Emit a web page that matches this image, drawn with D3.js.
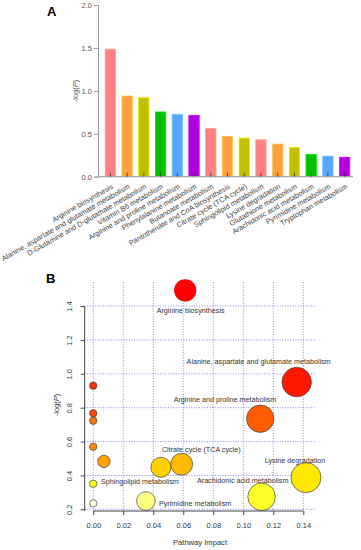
<!DOCTYPE html>
<html>
<head>
<meta charset="utf-8">
<script src="https://cdn.jsdelivr.net/npm/d3@7"></script>
<style>
  body { margin: 0; background: #fff; }
  svg { display: block; font-family: "Liberation Sans", Arial, sans-serif; }
</style>
</head>
<body>
<svg id="chart" width="361" height="550"></svg>
<script>
// panel A: enrichment bars
const barNames = [
  "Arginine biosynthesis",
  "Alanine, aspartate and glutamate metabolism",
  "D-Glutamine and D-glutamate metabolism",
  "Vitamin B6 metabolism",
  "Arginine and proline metabolism",
  "Phenylalanine metabolism",
  "Butanoate metabolism",
  "Pantothenate and CoA biosynthesis",
  "Citrate cycle (TCA cycle)",
  "Sphingolipid metabolism",
  "Lysine degradation",
  "Glutathione metabolism",
  "Arachidonic acid metabolism",
  "Pyrimidine metabolism",
  "Tryptophan metabolism"
];
const barValues = [1.485, 0.94, 0.92, 0.754, 0.727, 0.715, 0.56, 0.47, 0.45, 0.43, 0.38, 0.34, 0.26, 0.24, 0.226];
const barPalette = ["#ff8080", "#ffa040", "#c0c000", "#00c000", "#5aa5ff", "#b000e0"];
const barColorIdx = [0, 1, 2, 3, 4, 5, 0, 1, 2, 0, 1, 2, 3, 4, 5];
const barTicks = [0, 0.5, 1.0, 1.5, 2.0];

// panel B: pathway impact bubbles
const impact = [0.0613, 0.1356, 0, 0.1113, 0, 0, 0, 0.0071, 0.0451, 0.0589, 0.1418, 0.1122, 0, 0.0351, 0];
const logP = [1.493, 0.951, 0.93, 0.735, 0.767, 0.723, 0.57, 0.483, 0.448, 0.466, 0.387, 0.274, 0.351, 0.249, 0.235];
const bubbleLabels = [
  { i: 0, text: "Arginine biosynthesis", x: 0.0649, y: 1.376, anchor: "middle" },
  { i: 1, text: "Alanine, aspartate and glutamate metabolism", x: 0.1103, y: 1.071, anchor: "middle" },
  { i: 3, text: "Arginine and proline metabolism", x: 0.0878, y: 0.849, anchor: "middle" },
  { i: 9, text: "Citrate cycle (TCA cycle)", x: 0.072, y: 0.556, anchor: "middle" },
  { i: 10, text: "Lysine degradation", x: 0.1345, y: 0.491, anchor: "middle" },
  { i: 11, text: "Arachidonic acid metabolism", x: 0.0996, y: 0.373, anchor: "middle" },
  { i: 12, text: "Sphingolipid metabolism", x: 0.0051, y: 0.367, anchor: "start" },
  { i: 13, text: "Pyrimidine metabolism", x: 0.0438, y: 0.233, anchor: "start" }
];
const xTicksB = [0, 0.02, 0.04, 0.06, 0.08, 0.10, 0.12, 0.14];
const yTicksB = [0.2, 0.4, 0.6, 0.8, 1.0, 1.2, 1.4];

const svg = d3.select("#chart");

// ---------- panel A ----------
const gA = svg.append("g");
const xA = d3.scaleBand().domain(barNames).range([102, 353]).paddingInner(0.38).paddingOuter(0.19);
const yA = d3.scaleLinear().domain([0, 2]).range([176.7, 5]);

gA.append("text").attr("x", 47).attr("y", 16).attr("font-size", 13).attr("font-weight", "bold").text("A");

gA.selectAll("rect.bar")
  .data(barNames)
  .join("rect")
  .attr("class", "bar")
  .attr("x", d => xA(d))
  .attr("width", xA.bandwidth())
  .attr("y", (d, i) => yA(barValues[i]))
  .attr("height", (d, i) => yA(0) - yA(barValues[i]))
  .attr("fill", (d, i) => barPalette[barColorIdx[i]])
  .attr("stroke", (d, i) => d3.color(barPalette[barColorIdx[i]]).brighter(0.6))
  .attr("stroke-width", 0.8);

const yAxisA = gA.append("g")
  .attr("transform", "translate(98,0)")
  .call(d3.axisLeft(yA).tickValues(barTicks).tickFormat(d3.format(".1f")).tickSize(4).tickPadding(2));
yAxisA.select(".domain").attr("stroke", "#999");
yAxisA.selectAll(".tick line").attr("stroke", "#999");
yAxisA.selectAll(".tick text").attr("fill", "#555").attr("font-size", 7.5);

gA.append("line").attr("x1", 98).attr("x2", 353).attr("y1", yA(0)).attr("y2", yA(0))
  .attr("stroke", "#aaa").attr("stroke-width", 1.2);

const xAxisA = gA.append("g")
  .attr("transform", `translate(0,${yA(0)})`)
  .call(d3.axisBottom(xA).tickSize(-4).tickPadding(0));
xAxisA.select(".domain").remove();
xAxisA.selectAll(".tick line").attr("stroke", "#333").attr("stroke-width", 0.8);
xAxisA.selectAll(".tick text")
  .attr("fill", "#444")
  .attr("font-size", 7.3)
  .attr("text-anchor", "end")
  .attr("dy", "0.35em")
  .attr("transform", "translate(2,9) rotate(-30)")
  .attr("y", 0);

gA.append("text")
  .attr("transform", "translate(78,91) rotate(-90)")
  .attr("text-anchor", "middle")
  .attr("font-size", 7.5)
  .attr("fill", "#555")
  .call(t => {
    t.append("tspan").text("-log(");
    t.append("tspan").attr("font-style", "italic").text("P");
    t.append("tspan").text(")");
  });

// ---------- panel B ----------
const gB = svg.append("g");
const xB = d3.scaleLinear().domain([-0.0057, 0.1478]).range([84.7, 315]);
const yB = d3.scaleLinear().domain([0.19, 1.542]).range([511, 282]);
const rB = d3.scaleSqrt().domain([0, 0.142]).range([3.7, 15]);

// heat.colors ranking like R
function heatColors(n) {
  const j = Math.floor(n / 4), i = n - j;
  const out = [];
  for (let k = 0; k < i; k++) out.push(d3.hsl(60 * k / (i - 1), 1, 0.5).formatHex());
  for (let k = 0; k < j; k++) {
    const s = (1 - 1 / (2 * j)) - k * ((1 - 1 / j) / (j - 1));
    out.push(d3.rgb(255, 255, Math.round(255 * (1 - s))).formatHex());
  }
  return out;
}
const heat = heatColors(logP.length);
const rank = d3.range(logP.length).sort((a, b) => logP[b] - logP[a]);
const colorOf = new Map(rank.map((idx, k) => [idx, heat[k]]));

gB.append("text").attr("x", 46).attr("y", 283).attr("font-size", 13).attr("font-weight", "bold").text("B");

const grid = gB.append("g").attr("stroke", "#7777ff").attr("stroke-width", 0.9).attr("stroke-dasharray", "1,1.6");
grid.selectAll("line.v").data(xTicksB).join("line").attr("class", "v")
  .attr("x1", d => xB(d)).attr("x2", d => xB(d)).attr("y1", 282).attr("y2", 511);
grid.selectAll("line.h").data(yTicksB).join("line").attr("class", "h")
  .attr("x1", 84.7).attr("x2", 315).attr("y1", d => yB(d)).attr("y2", d => yB(d));

// bubbles, largest first so the small ones stay on top
const order = d3.range(impact.length).sort((a, b) => impact[b] - impact[a]);
gB.selectAll("circle.bub")
  .data(order)
  .join("circle")
  .attr("class", "bub")
  .attr("cx", i => xB(impact[i]))
  .attr("cy", i => yB(logP[i]))
  .attr("r", i => rB(impact[i]))
  .attr("fill", i => colorOf.get(i))
  .attr("stroke", i => i === 0 ? "none" : "#444")
  .attr("stroke-width", 0.7);

gB.selectAll("text.lbl")
  .data(bubbleLabels)
  .join("text")
  .attr("class", "lbl")
  .attr("x", d => xB(d.x))
  .attr("y", d => yB(d.y))
  .attr("dy", "0.35em")
  .attr("text-anchor", d => d.anchor)
  .attr("font-size", 7.2)
  .attr("fill", "#333")
  .text(d => d.text);

// axes in R style: line only over the tick range
const xAxisB = gB.append("g")
  .attr("transform", "translate(0,511)")
  .call(d3.axisBottom(xB).tickValues(xTicksB).tickFormat(d3.format(".2f")).tickSize(4).tickPadding(8));
xAxisB.select(".domain").remove();
gB.append("line").attr("x1", xB(0)).attr("x2", xB(0.14)).attr("y1", 511).attr("y2", 511).attr("stroke", "#444");
xAxisB.selectAll(".tick line").attr("stroke", "#444");
xAxisB.selectAll(".tick text").attr("fill", "#333").attr("font-size", 7.5);

const yAxisB = gB.append("g")
  .attr("transform", "translate(84.7,0)")
  .call(d3.axisLeft(yB).tickValues(yTicksB).tickFormat(d3.format(".1f")).tickSize(4).tickPadding(6));
yAxisB.select(".domain").remove();
gB.append("line").attr("x1", 84.7).attr("x2", 84.7).attr("y1", yB(1.4)).attr("y2", 511).attr("stroke", "#444");
yAxisB.selectAll(".tick line").attr("stroke", "#444");
yAxisB.selectAll(".tick text")
  .attr("fill", "#333")
  .attr("font-size", 7.5)
  .attr("text-anchor", "middle")
  .attr("dy", 0)
  .attr("transform", function () {
    const x = +d3.select(this).attr("x");
    return `translate(${x - 3},0) rotate(-90)`;
  })
  .attr("x", 0);

gB.append("text")
  .attr("x", 200).attr("y", 545)
  .attr("text-anchor", "middle")
  .attr("font-size", 7.6)
  .attr("fill", "#333")
  .text("Pathway Impact");

gB.append("text")
  .attr("transform", "translate(59,405) rotate(-90)")
  .attr("text-anchor", "middle")
  .attr("font-size", 7.5)
  .attr("fill", "#333")
  .call(t => {
    t.append("tspan").text("-log(");
    t.append("tspan").attr("font-style", "italic").text("P");
    t.append("tspan").text(")");
  });
</script>
</body>
</html>
